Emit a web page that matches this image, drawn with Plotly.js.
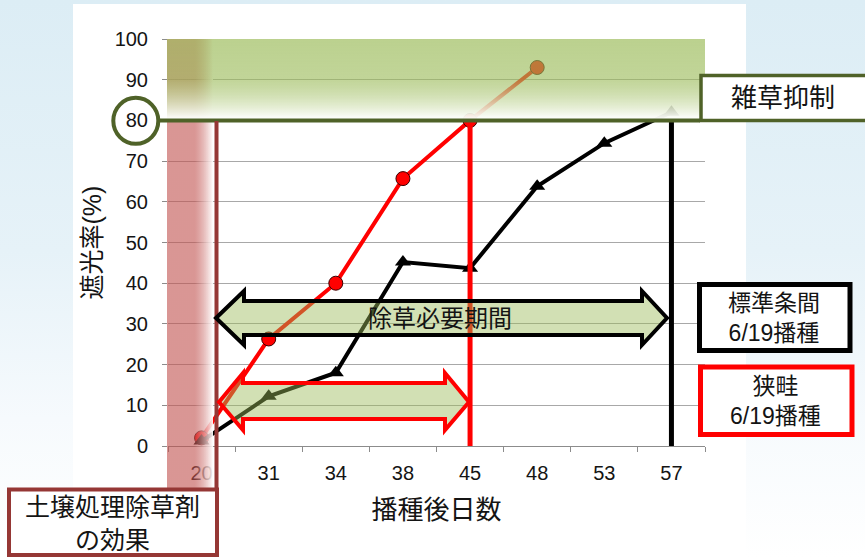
<!DOCTYPE html>
<html><head><meta charset="utf-8">
<script src="https://cdn.plot.ly/plotly-3.0.1.min.js"></script>
<style>
html,body{margin:0;padding:0;width:865px;height:558px;overflow:hidden;
background:linear-gradient(to bottom,#dcedf5 0%,#e6f2f8 45%,#f6fafd 75%,#ffffff 100%);}
#chart{width:865px;height:558px;}
</style></head><body><div id="chart"></div>
<script>
// ---- data ----
const categories = ['20','31','34','38','45','48','53','57'];
const narrowDays = ['20','31','34','38','45','48'];
const narrowShade = [2, 26.3, 40, 65.7, 80, 93];           // 狭畦 6/19播種
const standardDays = ['20','31','34','38','45','48','53','57'];
const standardShade = [1.2, 12.2, 18, 45.2, 43.7, 63.8, 74.4, 82]; // 標準条間 6/19播種
const yTickVals = [0,10,20,30,40,50,60,70,80,90,100];
const suppressLevel = 80;
const endNarrow = '45';
const endStandard = '57';

// ---- layout helpers (pixel -> paper) ----
const L=168, R=705, T=39, B=446;
const X = px => (px-L)/(R-L);
const Y = py => (B-py)/(B-T);
const P = pts => pts.map((p,i)=>(i?'L':'M')+X(p[0]).toFixed(5)+','+Y(p[1]).toFixed(5)).join(' ')+' Z';

function grad(w,h,horizontal,stops){
  const c=document.createElement('canvas'); c.width=w; c.height=h;
  const g=c.getContext('2d');
  const gr = horizontal ? g.createLinearGradient(0,0,w,0) : g.createLinearGradient(0,0,0,h);
  stops.forEach(s=>gr.addColorStop(s[0],s[1]));
  g.fillStyle=gr; g.fillRect(0,0,w,h);
  return c.toDataURL();
}

const FONT = 'Arial, "Liberation Sans", "Noto Sans CJK JP", sans-serif';
const OLIVE = '#4F6228', DARKRED = '#953735';

const traces = [
  {x: narrowDays, y: narrowShade, type:'scatter', mode:'lines+markers', name:'狭畦',
   line:{color:'#FF0000', width:4},
   marker:{symbol:'circle', size:14, color:'#FF0000', line:{color:'#3a0000', width:1}}},
  {x: standardDays, y: standardShade, type:'scatter', mode:'lines+markers', name:'標準条間',
   line:{color:'#000000', width:4},
   marker:{symbol:'triangle-up', size:14, color:'#000000'}}
];

const pinkImg = grad(46, 449, true, [[0,'rgba(192,80,77,0.6)'],[0.6,'rgba(192,80,77,0.6)'],[1,'rgba(255,255,255,0.93)']]);
const greenImg = grad(538, 80, false, [[0,'rgba(155,187,89,0.68)'],[0.5,'rgba(155,187,89,0.62)'],[1,'rgba(255,255,255,0.98)']]);

const iN = categories.indexOf(endNarrow), iS = categories.indexOf(endStandard);

const shapes = [
  {type:'rect', layer:'below', xref:'paper', yref:'paper', x0:X(73), x1:X(746), y0:Y(4), y1:Y(600), fillcolor:'#ffffff', line:{width:0}},
  {type:'line', layer:'above', xref:'x', yref:'y', x0:iN, x1:iN, y0:0, y1:suppressLevel, line:{color:'#FF0000', width:5}},
  {type:'line', layer:'above', xref:'x', yref:'y', x0:iS, x1:iS, y0:0, y1:suppressLevel, line:{color:'#000000', width:5}},
  {type:'line', layer:'above', xref:'paper', yref:'y', x0:X(159), x1:X(700), y0:suppressLevel, y1:suppressLevel, line:{color:OLIVE, width:4}},
  {type:'line', layer:'above', xref:'paper', yref:'paper', x0:X(216.5), x1:X(216.5), y0:Y(121), y1:Y(489), line:{color:DARKRED, width:4}},
  // black double arrow
  {type:'path', layer:'above', xref:'paper', yref:'paper',
   path:P([[216,318],[244,291],[244,301],[642,301],[642,291],[667,318],[642,345],[642,335],[244,335],[244,345]]),
   fillcolor:'rgba(155,187,89,0.45)', line:{color:'#000000', width:4}},
  // red double arrow
  {type:'path', layer:'above', xref:'paper', yref:'paper',
   path:P([[219,402],[243,373],[243,383],[445,383],[445,373],[469,402],[445,430],[445,419],[243,419],[243,430]]),
   fillcolor:'rgba(155,187,89,0.45)', line:{color:'#FF0000', width:4}},
  // boxes
  {type:'rect', layer:'above', xref:'paper', yref:'paper', x0:X(701), x1:X(872), y0:Y(75.5), y1:Y(120.5), fillcolor:'#ffffff', line:{color:OLIVE, width:3.5}},
  {type:'rect', layer:'above', xref:'paper', yref:'paper', x0:X(699.5), x1:X(850), y0:Y(284.5), y1:Y(350.5), fillcolor:'#ffffff', line:{color:'#000000', width:5}},
  {type:'rect', layer:'above', xref:'paper', yref:'paper', x0:X(700.5), x1:X(852), y0:Y(367), y1:Y(434.5), fillcolor:'#ffffff', line:{color:'#FF0000', width:5}},
  {type:'rect', layer:'above', xref:'paper', yref:'paper', x0:X(9), x1:X(217), y0:Y(489.5), y1:Y(555), fillcolor:'#ffffff', line:{color:DARKRED, width:4}},
  // circle around 80
  {type:'circle', layer:'above', xref:'paper', yref:'paper', x0:X(113.3), x1:X(158.3), y0:Y(143.8), y1:Y(97.8), line:{color:OLIVE, width:4}}
];

const images = [
  {source:pinkImg, xref:'paper', yref:'paper', x:X(167), y:Y(39), sizex:X(213)-X(167), sizey:Y(39)-Y(488), xanchor:'left', yanchor:'top', sizing:'stretch', layer:'above'},
  {source:greenImg, xref:'paper', yref:'paper', x:X(167), y:Y(39), sizex:X(705)-X(167), sizey:Y(39)-Y(119), xanchor:'left', yanchor:'top', sizing:'stretch', layer:'above'}
];

const txt = (t,px,py,size)=>({text:t, xref:'paper', yref:'paper', x:X(px), y:Y(py), xanchor:'center', yanchor:'middle', showarrow:false, font:{family:FONT, size:size, color:'#141414'}});
const annotations = [
  txt('除草必要期間', 440, 318, 24),
  txt('雑草抑制', 783, 98, 26),
  txt('標準条間<br>6/19播種', 774, 318, 23),
  txt('狭畦<br>6/19播種', 775, 401, 23),
  txt('土壌処理除草剤<br>の効果', 112, 523, 25)
];

const layout = {
  width:865, height:558,
  margin:{l:168, r:160, t:39, b:112, pad:0},
  paper_bgcolor:'rgba(0,0,0,0)', plot_bgcolor:'rgba(0,0,0,0)',
  showlegend:false,
  font:{family:FONT, color:'#141414'},
  xaxis:{type:'category', categoryorder:'array', categoryarray:categories, range:[-0.5,7.5],
    showgrid:false, showline:true, linecolor:'#8c8c8c', linewidth:1,
    ticks:'outside', tickson:'boundaries', ticklen:5, tickcolor:'#8c8c8c',
    tickfont:{size:20, family:FONT, color:'#141414'}, ticklabelstandoff:9,
    title:{text:'播種後日数', font:{size:26, family:FONT, color:'#141414'}, standoff:17}},
  yaxis:{range:[0,100], tickvals:yTickVals, showgrid:true, gridcolor:'#a8a8a8', gridwidth:1,
    zeroline:false, showline:false,
    ticks:'outside', ticklen:5, tickcolor:'#8c8c8c',
    tickfont:{size:20, family:FONT, color:'#141414'}, ticklabelstandoff:10,
    title:{text:'遮光率(%)', font:{size:25, family:FONT, color:'#141414'}, standoff:5}},
  shapes, images, annotations
};

Plotly.newPlot('chart', traces, layout, {staticPlot:true, displayModeBar:false});
</script></body></html>
